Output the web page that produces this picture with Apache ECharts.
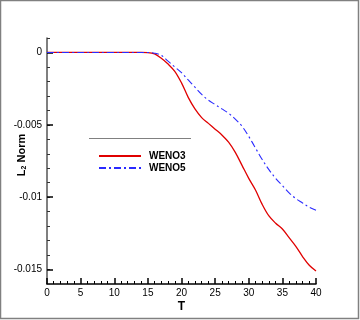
<!DOCTYPE html>
<html>
<head>
<meta charset="utf-8">
<script src="https://cdn.jsdelivr.net/npm/echarts@6/dist/echarts.min.js"></script>
<style>
  html, body { margin: 0; padding: 0; background: #fff; }
  #chart { width: 360px; height: 320px; }
</style>
</head>
<body>
<div id="chart"></div>
<script>
// time steps and L2 norm values
const times = [0, 5, 10, 14, 15, 16, 17, 18, 19, 20, 21, 22, 23, 24, 25, 26, 27, 28, 29, 30,
               31, 32, 33, 34, 35, 36, 37, 38, 39, 40];
const weno3 = [0, 0, 0, 0, -0.00001, -0.0001, -0.0004, -0.0008, -0.0013, -0.0021, -0.0031, -0.0039,
               -0.0045, -0.0049, -0.0053, -0.0057, -0.0062, -0.0069, -0.0078, -0.0087,
               -0.0095, -0.0105, -0.0113, -0.0118, -0.0122, -0.0128, -0.0134, -0.0141, -0.0147, -0.0151];
const weno5 = [0, 0, 0, 0, 0, -0.00005, -0.0002, -0.0006, -0.0010, -0.0014, -0.0019, -0.0024,
               -0.0029, -0.0033, -0.0036, -0.0039, -0.0042, -0.0046, -0.0051, -0.0058,
               -0.0066, -0.0074, -0.0081, -0.0087, -0.0092, -0.0097, -0.0101, -0.0104, -0.0107, -0.0109];
const yLabels = [0, -0.005, -0.01, -0.015];
const seriesNames = ['WENO3', 'WENO5'];

function pairs(vals) {
    return times.map((t, i) => [t, vals[i]]);
}

const chart = echarts.init(document.getElementById('chart'));

const font = 'Liberation Sans, Arial, sans-serif';

chart.setOption({
    animation: false,
    backgroundColor: '#fff',
    grid: { left: 47, top: 38, right: 44, bottom: 36, outerBoundsMode: 'none', containLabel: false },
    graphic: [
        {
            type: 'rect',
            shape: { x: 0.5, y: 0.5, width: 358, height: 318 },
            style: { fill: 'none', stroke: '#808080', lineWidth: 1.5 }
        },
        {
            type: 'line',
            shape: { x1: 89, y1: 138.5, x2: 191, y2: 138.5 },
            style: { stroke: '#808080', lineWidth: 1 }
        }
    ],
    legend: {
        orient: 'vertical',
        left: 98,
        top: 151,
        padding: 0,
        itemWidth: 42,
        itemHeight: 11,
        itemGap: 2,
        itemStyle: { opacity: 0 },
        textStyle: { fontFamily: font, fontSize: 10, fontWeight: 'bold', color: '#000', padding: [0, 0, 0, 3] },
        data: seriesNames
    },
    xAxis: {
        type: 'value',
        min: 0,
        max: 40,
        interval: 5,
        name: 'T',
        nameLocation: 'middle',
        nameGap: 17,
        nameMoveOverlap: false,
        nameTextStyle: { fontFamily: font, fontSize: 12, fontWeight: 'bold', color: '#000' },
        axisLine: { onZero: false, lineStyle: { color: '#000', width: 1.5 } },
        axisTick: { inside: true, length: 6, lineStyle: { color: '#000', width: 1.5 } },
        minorTick: { show: true, splitNumber: 5, length: 3, lineStyle: { color: '#000' } },
        axisLabel: { fontFamily: font, fontSize: 10, color: '#000', margin: 4 },
        splitLine: { show: false }
    },
    yAxis: [
        {
            type: 'value',
            min: -0.016,
            max: 0.001,
            interval: 0.001,
            name: '{a|L}{b|2}{a| Norm}',
            nameLocation: 'middle',
            nameGap: 19,
            nameMoveOverlap: false,
            nameRotate: 90,
            nameTextStyle: {
                padding: [0, 0, 0, 12],
                rich: {
                    a: { fontFamily: font, fontSize: 11, fontWeight: 'bold', color: '#000' },
                    b: { fontFamily: font, fontSize: 7, fontWeight: 'bold', color: '#000', padding: [6, 0, 0, 0] }
                }
            },
            axisLine: { onZero: false, lineStyle: { color: '#555', width: 1.5 } },
            axisTick: { inside: true, length: 3, lineStyle: { color: '#333' } },
            axisLabel: {
                customValues: yLabels,
                fontFamily: font, fontSize: 10, color: '#000', margin: 5
            },
            splitLine: { show: false }
        },
        {
            type: 'value',
            min: -0.016,
            max: 0.001,
            interval: 0.001,
            position: 'left',
            axisLine: { show: false },
            axisTick: { show: true, inside: true, length: 6, customValues: yLabels, lineStyle: { color: '#000', width: 1.5 } },
            axisLabel: { show: false },
            splitLine: { show: false }
        }
    ],
    series: [
        {
            name: seriesNames[0],
            type: 'line',
            smooth: 0.35,
            symbol: 'none',
            data: pairs(weno3),
            lineStyle: { color: '#e00000', width: 1.3 },
            itemStyle: { color: '#e00000' }
        },
        {
            name: seriesNames[1],
            type: 'line',
            smooth: 0.35,
            symbol: 'none',
            data: pairs(weno5),
            lineStyle: { color: '#2a2aff', width: 1.1, type: [7, 3, 2, 3] },
            itemStyle: { color: '#2a2aff' }
        }
    ]
});

window.addEventListener('resize', () => {
    chart.resize();
});
</script>
</body>
</html>
